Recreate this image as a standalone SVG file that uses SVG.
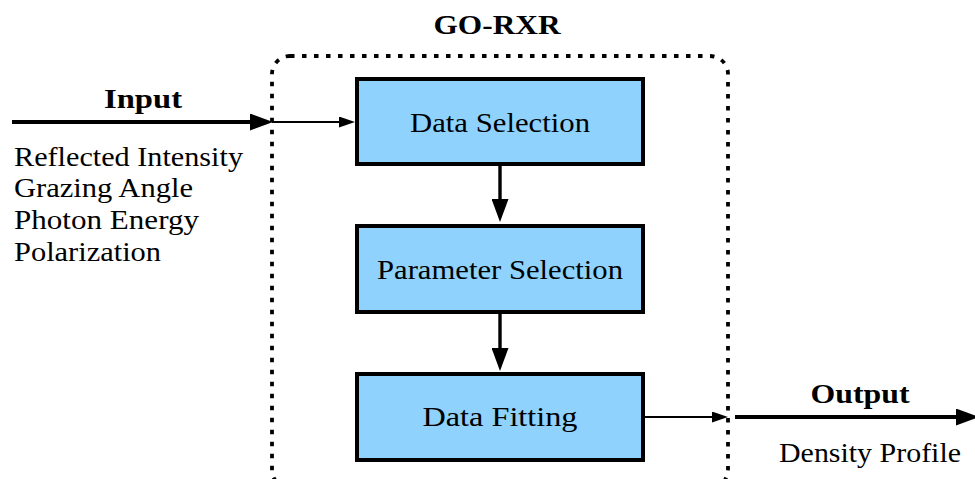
<svg xmlns="http://www.w3.org/2000/svg" width="975" height="479" viewBox="0 0 975 479" font-family="'Liberation Serif', 'Times New Roman', serif">
  <defs>
    <style>
      text { font-family: "Liberation Serif", "Times New Roman", serif; font-size: 28px; fill: #000; }
      .bold { font-weight: bold; }
      .mid { text-anchor: middle; }
      .box { fill: #8ed2fd; stroke: #000; stroke-width: 4; }
      .frame { fill: none; stroke: #000; stroke-width: 3.8; stroke-dasharray: 4.5 7.5; }
      .thick { stroke: #000; stroke-width: 4; fill: none; }
      .thin { stroke: #000; stroke-width: 1.8; fill: none; }
      .step { stroke: #000; stroke-width: 3.4; fill: none; }
    </style>
    <marker id="head-big" viewBox="0 0 23 17" refX="0" refY="8.5" markerWidth="23" markerHeight="17" markerUnits="userSpaceOnUse" orient="auto">
      <path d="M0,0 L23,8.5 L0,17 Z" fill="#000"/>
    </marker>
    <marker id="head-small" viewBox="0 0 16 11" refX="0" refY="5.5" markerWidth="16" markerHeight="11" markerUnits="userSpaceOnUse" orient="auto">
      <path d="M0,0 L16,5.5 L0,11 Z" fill="#000"/>
    </marker>
  </defs>

  <!-- GO-RXR processing frame -->
  <g id="go-rxr">
    <rect class="frame" x="272" y="56" width="456" height="432" rx="18" ry="18"/>
    <text class="bold mid" x="497" y="34" textLength="127" lengthAdjust="spacingAndGlyphs">GO-RXR</text>
  </g>

  <!-- Input side -->
  <g id="input">
    <text class="bold mid" x="143" y="108" textLength="78" lengthAdjust="spacingAndGlyphs">Input</text>
    <text x="14" y="166" textLength="229" lengthAdjust="spacingAndGlyphs">Reflected Intensity</text>
    <text x="14" y="197" textLength="179" lengthAdjust="spacingAndGlyphs">Grazing Angle</text>
    <text x="14" y="229" textLength="185" lengthAdjust="spacingAndGlyphs">Photon Energy</text>
    <text x="14" y="261" textLength="147" lengthAdjust="spacingAndGlyphs">Polarization</text>
  </g>

  <!-- Processing steps -->
  <g id="data-selection">
    <rect class="box" x="357" y="79" width="286" height="85"/>
    <text class="mid" x="500" y="132" textLength="180" lengthAdjust="spacingAndGlyphs">Data Selection</text>
  </g>
  <g id="parameter-selection">
    <rect class="box" x="357" y="226" width="286" height="86"/>
    <text class="mid" x="500" y="279" textLength="246" lengthAdjust="spacingAndGlyphs">Parameter Selection</text>
  </g>
  <g id="data-fitting">
    <rect class="box" x="357" y="374" width="286" height="86"/>
    <text class="mid" x="500" y="426" textLength="155" lengthAdjust="spacingAndGlyphs">Data Fitting</text>
  </g>

  <!-- Output side -->
  <g id="output">
    <text class="bold mid" x="860" y="403" textLength="99" lengthAdjust="spacingAndGlyphs">Output</text>
    <text class="mid" x="870" y="462" textLength="182" lengthAdjust="spacingAndGlyphs">Density Profile</text>
  </g>

  <!-- Connectors -->
  <g id="connectors">
    <line class="thick" x1="12" y1="122" x2="250" y2="122" marker-end="url(#head-big)"/>
    <line class="thin" x1="272" y1="122" x2="339" y2="122" marker-end="url(#head-small)"/>
    <line class="step" x1="500" y1="166" x2="500" y2="199" marker-end="url(#head-big)"/>
    <line class="step" x1="500" y1="314" x2="500" y2="348" marker-end="url(#head-big)"/>
    <line class="thin" x1="645" y1="417" x2="712" y2="417" marker-end="url(#head-small)"/>
    <line class="thick" x1="735" y1="417" x2="956" y2="417" marker-end="url(#head-big)"/>
  </g>
</svg>
